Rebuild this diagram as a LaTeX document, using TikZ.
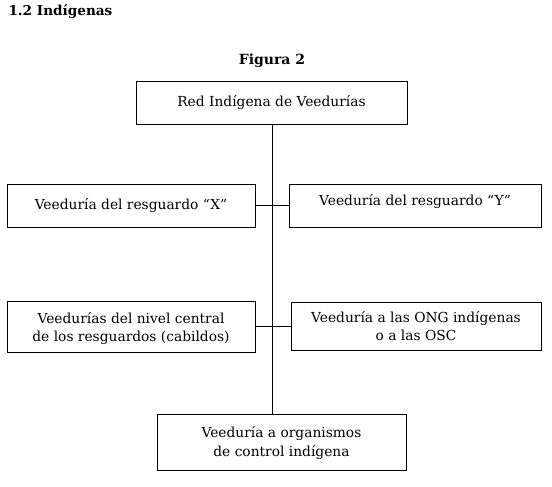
\documentclass[tikz,border=0pt]{standalone}
\usepackage{fontspec}
\setmainfont{DejaVu Serif}
\begin{document}
\begin{tikzpicture}[x=1pt,y=-1pt,
  box/.style={draw=black,line width=0.9pt,inner sep=0pt},
  lbl/.style={font=\fontsize{13.8}{18.5}\selectfont,align=center},
  conn/.style={draw=black,line width=0.9pt}]
\useasboundingbox (0,0) rectangle (552,487);
\node[anchor=west,font=\fontsize{13.6}{16}\selectfont\bfseries] (title) at (5,12) {1.2 Indígenas};
\node[font=\fontsize{14}{16}\selectfont\bfseries] (fig) at (272,61) {Figura 2};
\node[box,minimum width=271pt,minimum height=43pt] (top) at (271.5,102.5) {};
\node[lbl] at (top.center) {Red Indígena de Veedurías};
\node[box,minimum width=248pt,minimum height=43pt] (x) at (131,205.5) {};
\node[lbl] at (131,205.5) {Veeduría del resguardo “X”};
\node[box,minimum width=252pt,minimum height=43pt] (y) at (415,205.5) {};
\node[lbl] at (415,202) {Veeduría del resguardo “Y”};
\node[box,minimum width=248pt,minimum height=51pt] (cl) at (131,326.5) {};
\node[lbl] at (131,328.5) {Veedurías del nivel central\\de los resguardos (cabildos)};
\node[box,minimum width=250pt,minimum height=48pt] (cr) at (416,326) {};
\node[lbl] at (416,326) {Veeduría a las ONG indígenas\\o a las OSC};
\node[box,minimum width=249pt,minimum height=56pt] (bot) at (281.5,442) {};
\node[lbl] at (281.5,443) {Veeduría a organismos\\de control indígena};
\coordinate (j1) at (272,205.5);
\coordinate (j2) at (272,326);
\draw[conn] (top.south -| j1) -- (bot.north -| j1);
\draw[conn] (x.east) -- (y.west);
\draw[conn] (cl.east |- j2) -- (cr.west |- j2);
\end{tikzpicture}
\end{document}
